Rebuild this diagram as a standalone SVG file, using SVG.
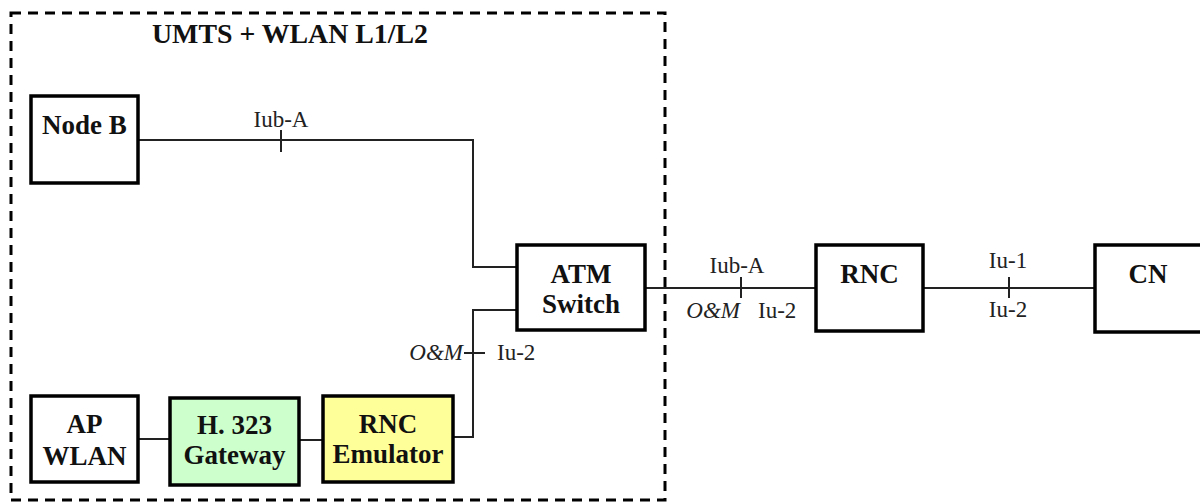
<svg xmlns="http://www.w3.org/2000/svg" width="1200" height="503" viewBox="0 0 1200 503">
<style>
.box{fill:#fff;stroke:#000;stroke-width:3.5}
.g{fill:#ccffcc}
.y{fill:#ffff99}
.t{font-family:"Liberation Serif","Times New Roman",serif;font-weight:bold;font-size:27px;fill:#111;text-anchor:middle}
.l{font-family:"Liberation Serif","Times New Roman",serif;font-size:23px;fill:#222}
.i{font-style:italic}
.c{fill:none;stroke:#222;stroke-width:2}
</style>
<rect x="11" y="13" width="654" height="487" fill="none" stroke="#000" stroke-width="3" stroke-dasharray="10 7"/>
<text class="t" x="290" y="43" textLength="276" lengthAdjust="spacingAndGlyphs">UMTS + WLAN L1/L2</text>
<g id="connectors">
<polyline class="c" points="138,140 473,140 473,267 517,267"/>
<polyline class="c" points="453,437 473,437 473,310 517,310"/>
<line class="c" x1="138" y1="439" x2="170" y2="439"/>
<line class="c" x1="299" y1="440" x2="323" y2="440"/>
<line class="c" x1="645" y1="288" x2="816" y2="288"/>
<line class="c" x1="923" y1="288" x2="1095" y2="288"/>
<line class="c" x1="281" y1="130" x2="281" y2="152"/>
<line class="c" x1="464" y1="353" x2="485" y2="353"/>
<line class="c" x1="741" y1="277" x2="741" y2="298"/>
<line class="c" x1="1009" y1="277" x2="1009" y2="298"/>
<text class="l" x="281" y="127" text-anchor="middle">Iub-A</text>
<text class="l i" x="463" y="360" text-anchor="end">O&amp;M</text>
<text class="l" x="497" y="360">Iu-2</text>
<text class="l" x="737" y="273" text-anchor="middle">Iub-A</text>
<text class="l i" x="740" y="318" text-anchor="end">O&amp;M</text>
<text class="l" x="758" y="318">Iu-2</text>
<text class="l" x="1008" y="268" text-anchor="middle">Iu-1</text>
<text class="l" x="1008" y="317" text-anchor="middle">Iu-2</text>
</g>
<g id="nodeb">
<rect class="box" x="31" y="96" width="107" height="87"/>
<text class="t" x="84.5" y="134">Node B</text>
</g>
<g id="atm">
<rect class="box" x="517" y="245" width="128" height="85"/>
<text class="t" x="581" y="283">ATM</text>
<text class="t" x="581" y="313">Switch</text>
</g>
<g id="apwlan">
<rect class="box" x="31" y="396" width="107" height="86"/>
<text class="t" x="84.5" y="433">AP</text>
<text class="t" x="84.5" y="465">WLAN</text>
</g>
<g id="gateway">
<rect class="box g" x="170" y="398" width="129" height="87"/>
<text class="t" x="234.5" y="434">H. 323</text>
<text class="t" x="234.5" y="464">Gateway</text>
</g>
<g id="rncemu">
<rect class="box y" x="323" y="396" width="130" height="86"/>
<text class="t" x="388" y="433">RNC</text>
<text class="t" x="388" y="463">Emulator</text>
</g>
<g id="rnc">
<rect class="box" x="816" y="245" width="107" height="86"/>
<text class="t" x="869.5" y="283">RNC</text>
</g>
<g id="cn">
<rect class="box" x="1095" y="245" width="108" height="87"/>
<text class="t" x="1148" y="283">CN</text>
</g>
</svg>
